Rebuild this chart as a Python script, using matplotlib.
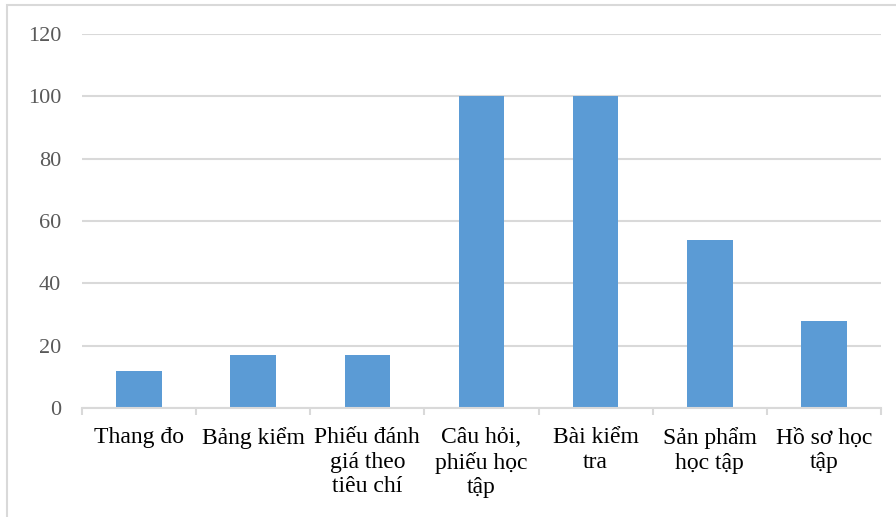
import matplotlib.pyplot as plt
from matplotlib.patches import Rectangle
import numpy as np

plt.rcParams['font.family'] = ['Liberation Serif', 'DejaVu Serif']

# Data
#-------------------------------------------------
categories = ['Thang đo', 'Bảng kiểm', 'Phiếu đánh\ngiá theo\ntiêu chí',
              'Câu hỏi,\nphiếu học\ntập', 'Bài kiểm\ntra', 'Sản phẩm\nhọc tập',
              'Hồ sơ học\ntập']
values = [12, 17, 17, 100, 100, 54, 28]
yticks = [0, 20, 40, 60, 80, 100, 120]

bar_color = '#5B9BD5'
grid_color = '#D9D9D9'

fig = plt.figure(figsize=(8.96, 5.17), dpi=100, facecolor='w')
ax = fig.add_axes([82/896, 1-408/517, (881-82)/896, (408-34)/517])

# outer chart frame
fig.patches.append(Rectangle((7/896, -0.1), 1.2, 1-5/517+0.1, transform=fig.transFigure,
                             fill=False, edgecolor=grid_color, lw=1.5, zorder=0))

x = np.arange(len(categories))
ax.bar(x, values, width=0.4, color=bar_color, zorder=3)

ax.set_xlim(-0.5, len(categories)-0.5)
ax.set_ylim(0, 120)
ax.set_yticks(yticks)
ax.yaxis.grid(True, color=grid_color, lw=1.5, zorder=0)
ax.tick_params(axis='y', length=0, pad=15, labelsize=16, labelcolor='#595959')

# category labels at centres, tick marks at boundaries
ax.set_xticks(x)
ax.set_xticklabels(categories, fontsize=17, color='black', linespacing=1.2)
ax.tick_params(axis='x', which='major', length=0, pad=14)
ax.set_xticks(np.arange(-0.5, len(categories)), minor=True)
ax.tick_params(axis='x', which='minor', length=5, width=1.5, color=grid_color)

for s in ['top', 'right', 'left']:
    ax.spines[s].set_visible(False)
ax.spines['bottom'].set_color(grid_color)
ax.spines['bottom'].set_linewidth(1.5)
ax.spines['bottom'].set_zorder(4)

fig.savefig('out.png', dpi=100)
